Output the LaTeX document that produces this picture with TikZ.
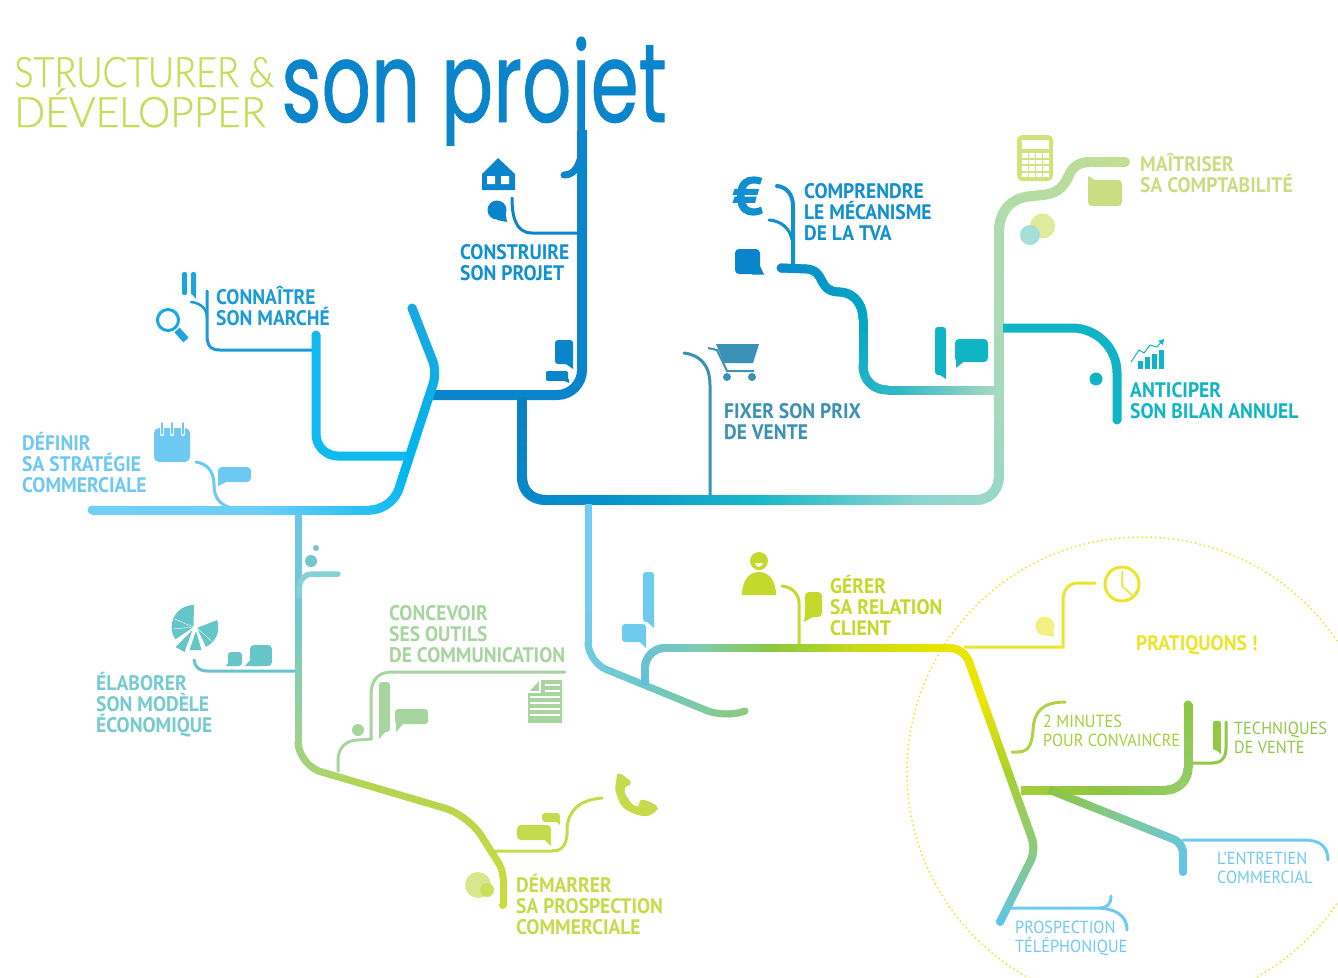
\documentclass[tikz,border=0pt]{standalone}
\usepackage{fontspec}
\usetikzlibrary{decorations.markings}
\setmainfont{PT Sans}
\newfontfamily\labfam[FakeStretch=.93]{PT Sans}
\newfontfamily\eurofam[FakeBold=2.5]{PT Sans}
\newfontfamily\thinfam[FakeStretch=.86,FakeBold=1]{Lato Light}
\newfontfamily\thinfamb[FakeStretch=.97,FakeBold=1]{Lato Light}
\newfontfamily\bigfam[FakeStretch=.69,FakeBold=.6]{Poppins}
\newcommand\labf{\labfam\bfseries\fontsize{21}{21.4}\selectfont}
\newcommand\labs{\labfam\fontsize{17.5}{19}\selectfont}
\newcommand\ml[1]{\vtop{\lineskiplimit=-100pt\let\\\cr\halign{##\hfil\cr #1\crcr}}}
% colours
\definecolor{cmain}{HTML}{0A85CC}
\definecolor{cblue}{HTML}{1090D0}
\definecolor{csky}{HTML}{1BA5DF}
\definecolor{cconn}{HTML}{1A9AD6}
\definecolor{cdef}{HTML}{6DC9F2}
\definecolor{ceco}{HTML}{66C5C9}
\definecolor{ccom}{HTML}{A7D49F}
\definecolor{cpros}{HTML}{C6DB4B}
\definecolor{cfix}{HTML}{3A90B5}
\definecolor{cteal}{HTML}{10B4C4}
\definecolor{ccpt}{HTML}{CBDD83}
\definecolor{cger}{HTML}{C5D92D}
\definecolor{cyel}{HTML}{EAE62E}
\definecolor{cgrn}{HTML}{93C748}
\definecolor{clite}{HTML}{6FCBEE}
\definecolor{ctitle}{HTML}{C8DC5A}
\definecolor{a0}{HTML}{0A7FC4}\definecolor{a1}{HTML}{0590CC}\definecolor{a2}{HTML}{1AB8C8}
\definecolor{a3}{HTML}{90D6D0}\definecolor{a4}{HTML}{A8D9BE}\definecolor{a5}{HTML}{AEDAB0}\definecolor{a6}{HTML}{C2DE90}
\definecolor{b0}{HTML}{1AA7E0}\definecolor{b1}{HTML}{00B6F0}\definecolor{b2}{HTML}{6CCFF8}\definecolor{b3}{HTML}{72CFF8}
\definecolor{d0}{HTML}{6CC6EA}\definecolor{d1}{HTML}{72C8CE}\definecolor{d2}{HTML}{98D09A}\definecolor{d3}{HTML}{B4D552}\definecolor{d4}{HTML}{BBD648}\definecolor{d5}{HTML}{CADD3C}
\definecolor{e0}{HTML}{60BFDC}\definecolor{e1}{HTML}{7CCAB5}\definecolor{e2}{HTML}{90C83C}\definecolor{e3}{HTML}{C6DA1E}\definecolor{e4}{HTML}{E8E400}\definecolor{e5}{HTML}{EDE600}\definecolor{e6}{HTML}{A8D030}\definecolor{e7}{HTML}{8CCA80}\definecolor{e8}{HTML}{5FC5E8}
\definecolor{f0}{HTML}{70CCF5}\definecolor{f1}{HTML}{70CCF0}\definecolor{f2}{HTML}{6EC8C8}\definecolor{f3}{HTML}{8CCB80}
\definecolor{h0}{HTML}{0B8BCC}\definecolor{h1}{HTML}{00A5C4}\definecolor{h2}{HTML}{30B8C8}\definecolor{h3}{HTML}{A8D8C0}
\definecolor{k0}{HTML}{A5CF3A}\definecolor{k1}{HTML}{8DC63F}\definecolor{k2}{HTML}{95CC6A}\definecolor{k3}{HTML}{8DC63F}
\definecolor{m0}{HTML}{8CC63F}\definecolor{m1}{HTML}{80C9A0}\definecolor{m2}{HTML}{60C5EE}
% gradient stroke along a path: full width, number of segments, quoted colour list, path
\newcommand\gmark{%
  \pgfmathsetmacro\gt{\pgfkeysvalueof{/pgf/decoration/mark info/distance from start}/\pgfdecoratedpathlength*\gn}%
  \pgfmathtruncatemacro\gi{min(int(\gt),\gn-1)}%
  \pgfmathtruncatemacro\gj{\gi+1}%
  \pgfmathtruncatemacro\gp{100*(\gt-\gi)}%
  \pgfmathsetmacro\ga{{\gs}[\gi]}%
  \pgfmathsetmacro\gb{{\gs}[\gj]}%
  \draw[\gb!\gp!\ga,line width=\gw pt,line cap=butt] (-1.1pt,0pt) -- (1.1pt,0pt);%
}
\newcommand\gline[4]{%
  \def\gw{#1}\def\gn{#2}\def\gs{#3}%
  \path[decorate,decoration={markings,mark=between positions 0 and 1 step 1.5pt with {\gmark}}] #4;%
}
\tikzset{
  lbl/.style={anchor=base west,inner sep=0pt,font=\labf},
  lbs/.style={anchor=base west,inner sep=0pt,font=\labs},
  thin line/.style={line width=3pt,line cap=round},
  thick line/.style={line width=9pt,line cap=round},
}
\begin{document}
\begin{tikzpicture}[x=1pt,y=-1pt]
\path[use as bounding box,clip] (0,0) rectangle (1338,977);
\fill[white] (0,0) rectangle (1338,977);
% named junctions
\coordinate (jtop) at (582,130);
\coordinate (jv) at (430,395);
\coordinate (t2) at (522,398);
\coordinate (vtop) at (412,308);
\coordinate (vend) at (92,510);
\coordinate (d0) at (298,510);
\coordinate (d1) at (503,905);
\coordinate (f0) at (588,505);
\coordinate (f1) at (745,711);
\coordinate (g0) at (645,684);
\coordinate (g1) at (1000,922);
\coordinate (tvaS) at (781,268);
\coordinate (bilanS) at (1003,328);
\coordinate (bilanE) at (1117,420);
\coordinate (cptE) at (1125,162);
\coordinate (techE) at (1188,705);
\coordinate (entE) at (1183,872);
\coordinate (connS) at (316,335);
\coordinate (clock) at (1122,584);
% dotted circle
\draw[cyel,line width=1.5pt,dash pattern=on 1.5pt off 3pt] (1142,772) circle (235);
% title
\node[anchor=base west,inner sep=0pt,text=ctitle,font=\thinfam\fontsize{42}{42}\selectfont] (t1) at (14,87) {STRUCTURER \&};
\node[anchor=base west,inner sep=0pt,text=ctitle,font=\thinfamb\fontsize{42}{42}\selectfont] (t2n) at (14,127) {DÉVELOPPER};
\node[anchor=base west,inner sep=0pt,text=cmain,font=\bigfam\fontsize{112}{112}\selectfont] (t3) at (281,122) {son projet};
\fill[white] (440,146) rectangle (474,156) (545,127) rectangle (577,160);
% --- thin connectors
\draw[thin line,cmain] (580,233) -- (532,233) .. controls (515,233) and (512,215) .. (512,198);
\draw[thin line,cconn] (316,350) -- (220,350) .. controls (210,350) and (207,345) .. (207,335) -- (207,291);
\draw[thin line,cconn,line width=2.5pt] (207,318) .. controls (207,308) and (200,303) .. (191,302);
\draw[thin line,cdef] (232,508) .. controls (218,505) and (214,495) .. (214,485) .. controls (214,472) and (208,464) .. (196,462);
\draw[thin line,ceco] (297,671) -- (207,671) .. controls (199,671) and (195,667) .. (194,660);
\draw[thin line,ccom] (338,771) -- (338,760) .. controls (338,748) and (346,740) .. (358,740) -- (371,739) -- (371,695) .. controls (371,680) and (378,672) .. (392,672) -- (565,672);
\draw[thin line,cpros] (495,851) -- (552,851) .. controls (562,851) and (566,845) .. (567,835) -- (567,828) .. controls (568,812) and (578,800) .. (602,798);
\draw[thin line,cger] (799,648) -- (799,603) .. controls (799,594) and (792,587) .. (782,586);
\draw[thin line,cyel] (965,647) -- (1063,647) -- (1063,600) .. controls (1063,590) and (1069,583) .. (1078,583) -- (1095,583);
\draw[thin line,k0!70!ctitle] (1012,752) -- (1018,752) .. controls (1030,752) and (1032,742) .. (1033,730) .. controls (1034,712) and (1042,702) .. (1065,702);
\draw[thin line,cgrn] (1190,763) -- (1212,763) .. controls (1222,763) and (1226,757) .. (1226,748) -- (1226,722);
\draw[thin line,clite] (1183,840) -- (1305,840) .. controls (1320,840) and (1328,847) .. (1328,860);
\draw[thin line,clite] (1010,908) -- (1095,908) .. controls (1115,908) and (1127,915) .. (1127,930);
\draw[thin line,clite] (1100,908) .. controls (1107,908) and (1111,904) .. (1111,896);
\draw[thin line,cfix] (710,497) -- (710,385) .. controls (710,365) and (700,355) .. (684,353);
\draw[line width=4pt,line cap=round,cblue] (793,268) -- (793,206) .. controls (793,195) and (787,187) .. (777,186);
\draw[line width=3pt,line cap=round,cblue] (792,240) .. controls (790,229) and (782,221) .. (769,220);
% --- trunks
\draw[line width=10pt,cmain,rounded corners=25pt] (jtop) -- (582,395) -- (jv);
\draw[line width=7pt,cmain,line cap=round] (564,175) .. controls (575,175) and (580,165) .. (582,150);
\gline{10}{6}{"a0","a1","a2","a3","a4","a5","a6"}{(t2) -- (522,477) .. controls (522,491) and (532,500) .. (546,500) -- (975,500) .. controls (990,500) and (999,490) .. (999,475) -- (999,232) .. controls (999,210) and (1012,197) .. (1033,196) -- (1042,195) .. controls (1058,194) and (1065,185) .. (1069,175) .. controls (1073,166) and (1080,162) .. (1090,162) -- (cptE)}
\fill[a6] (cptE) circle (5);
\gline{9}{3}{"h0","h1","h2","h3"}{(tvaS) -- (807,269) .. controls (818,270) and (820,278) .. (823,283) .. controls (827,290) and (832,292) .. (840,292) .. controls (855,293) and (863,305) .. (863,320) -- (863,365) .. controls (863,380) and (873,390) .. (888,390) -- (997,390)}
\fill[h0] (tvaS) circle (4.5);
\draw[thick line,cteal,rounded corners=45pt,line cap=butt] (bilanS) -- (1117,328) -- (bilanE);
\fill[cteal] (bilanE) circle (4.5);
\gline{7}{3}{"f0","f1","f2","f3"}{[rounded corners=20pt] (f0) -- (588,662) -- (725,718) -- (f1)}
\fill[f3] (f1) circle (3.5);
\gline{8}{8}{"e0","e1","e2","e3","e4","e5","e6","e7","e8"}{[rounded corners=20pt] (g0) -- (645,648) [rounded corners=14pt] -- (964,648) [rounded corners=12pt] -- (1036,850) -- (g1)}
\fill[e8] (g1) circle (4);
\gline{7}{5}{"d0","d1","d2","d3","d4","d5"}{[rounded corners=24pt] (d0) -- (298,765) -- (468,815) [rounded corners=8pt] -- (503,870) -- (d1)}
\fill[d5] (d1) circle (4);
\draw[line width=5.5pt,line cap=round,d1!85!white,rounded corners=12pt] (338,574) -- (300,574) -- (299,596);
\gline{9}{3}{"b0","b1","b2","b3"}{[rounded corners=12pt] (vtop) -- (437,372) [rounded corners=22pt] -- (392,510) -- (vend)}
\fill[b0] (vtop) circle (4.5);
\fill[b3] (vend) circle (4.5);
\draw[thick line,line cap=butt,b1!85!b2,rounded corners=22pt] (connS) -- (316,456) -- (407,456);
\fill[b1!85!b2] (connS) circle (4.5);
\gline{9}{3}{"k0","k1","k2","k3"}{[rounded corners=22pt] (1022,790) -- (1188,790) -- (techE)}
\fill[k3] (techE) circle (4.5);
\gline{8}{2}{"m0","m1","m2"}{[rounded corners=10pt] (1050,790) -- (1183,843) -- (entE)}
\fill[m2] (entE) circle (4);
% --- labels
\node[lbl,text=cblue] (construire) at (460,259) {\ml{CONSTRUIRE\\SON PROJET}};
\node[lbl,text=cconn] (connaitre) at (216,304) {\ml{CONNAÎTRE\\SON MARCHÉ}};
\node[lbl,text=cdef] (definir) at (22,450) {\ml{DÉFINIR\\SA STRATÉGIE\\COMMERCIALE}};
\node[lbl,text=ceco!90!white] (elaborer) at (96,690) {\ml{ÉLABORER\\SON MODÈLE\\ÉCONOMIQUE}};
\node[lbl,text=ccom] (concevoir) at (389,620) {\ml{CONCEVOIR\\SES OUTILS\\DE COMMUNICATION}};
\node[lbl,text=cpros] (demarrer) at (516,892) {\ml{DÉMARRER\\SA PROSPECTION\\COMMERCIALE}};
\node[lbl,text=cfix] (fixer) at (724,418) {\ml{FIXER SON PRIX\\DE VENTE}};
\node[lbl,text=cblue] (comprendre) at (804,198) {\ml{COMPRENDRE\\LE MÉCANISME\\DE LA TVA}};
\node[lbl,text=cteal] (anticiper) at (1130,397) {\ml{ANTICIPER\\SON BILAN ANNUEL}};
\node[lbl,text=ccpt] (maitriser) at (1140,171) {\ml{MAÎTRISER\\SA COMPTABILITÉ}};
\node[lbl,text=cger] (gerer) at (830,593) {\ml{GÉRER\\SA RELATION\\CLIENT}};
\node[lbl,text=cyel] (pratiquons) at (1136,650) {PRATIQUONS !};
\node[lbs,text=k0] (minutes) at (1043,727) {\ml{2 MINUTES\\POUR CONVAINCRE}};
\node[lbs,text=cgrn] (techniques) at (1234,734) {\ml{TECHNIQUES\\DE VENTE}};
\node[lbs,text=clite] (entretien) at (1217,864) {\ml{L’ENTRETIEN\\COMMERCIAL}};
\node[lbs,text=clite] (prospection) at (1015,933) {\ml{PROSPECTION\\TÉLÉPHONIQUE}};
\node[anchor=center,inner sep=0pt,text=cblue,font=\eurofam\bfseries\fontsize{52}{52}\selectfont] (euro) at (748,196) {€};
% --- icons: house
\fill[cmain] (498,158) -- (515,174) -- (515,190) -- (482,190) -- (482,174) -- cycle;
\fill[white] (487,176) rectangle (495,184) (501,176) rectangle (509,184);
\fill[cmain] (497,210) circle (9.5);
\fill[cmain] (497,220) -- (507,222) -- (504,203) -- cycle;
% bubbles near corner
\fill[cmain,rounded corners=3pt] (555,340) rectangle (573,364);
\fill[cmain] (563,362) -- (573,362) -- (573,369) -- cycle;
\fill[cmain,rounded corners=2pt] (546,371) rectangle (568,381);
\fill[cmain] (560,379) -- (569,379) -- (569,383) -- cycle;
% magnifier and bars
\draw[csky,line width=3pt] (168,320) circle (10.5);
\draw[csky,line width=7pt] (177,330) -- (186,340);
\fill[csky,rounded corners=2pt] (182,272) rectangle (187,295);
\fill[csky,rounded corners=2pt] (191,272) rectangle (196,295);
\fill[csky] (191,293) -- (196,293) -- (196,299) -- cycle;
% calendar and bubble
\fill[cdef,rounded corners=5pt] (154,428) rectangle (190,462);
\foreach \q in {162,172,183}{\draw[white,line width=4.5pt,line cap=round] (\q,429) -- (\q,434);\draw[cdef,line width=1.8pt,line cap=round] (\q,423) -- (\q,434);}
\fill[cdef,rounded corners=4pt] (218,467) rectangle (251,482);
\fill[cdef] (218,478) -- (226,482) -- (218,486) -- cycle;
% dots and pie
\fill[d1] (311,561) circle (6);
\fill[d1] (316,548) circle (3);
\begin{scope}[shift={(193.5,627)},yscale=-1]
\fill[ceco] (0,0) -- (0.5,22) arc (89:214:22) -- cycle;
\fill[ceco] (3.5,-1) -- (23.5,7) arc (20:-65:21.5) -- cycle;
\fill[ceco] (-1,-3) -- (-18,-20) -- (-9,-25) -- cycle;
\fill[ceco] (2.5,-4) -- (-4,-23) -- (8,-23) -- cycle;
\draw[white,line width=.7pt,dash pattern=on 2pt off 1pt] (0,0) -- (-19,8);
\draw[white,line width=.4pt] (0,0) -- (-20,-2);
\draw[white,line width=.4pt] (3.5,-1) -- (18,-14);
\end{scope}
\fill[ceco,rounded corners=3pt] (228,652) rectangle (242,666);
\fill[ceco] (230,660) -- (226,666) -- (236,666) -- cycle;
\fill[ceco,rounded corners=4pt] (250,645) rectangle (272,666);
\fill[ceco] (252,658) -- (245,666) -- (258,666) -- cycle;
% concevoir bubbles, dot, document
\fill[ccom,rounded corners=3pt] (379,682) rectangle (390,732);
\fill[ccom] (379,728) -- (389,728) -- (379,739) -- cycle;
\fill[ccom,rounded corners=3pt] (395,709) rectangle (428,724);
\fill[ccom] (396,722) -- (405,722) -- (396,732) -- cycle;
\fill[ccom] (358,730) circle (6);
\fill[ccom] (540,680) -- (562,680) -- (562,723) -- (528,723) -- (528,693) -- cycle;
\foreach \q in {697,703,709,715}{\draw[white,line width=1.2pt] (530,\q) -- (560,\q);}
\draw[white,line width=1.2pt] (545,685) -- (560,685) (545,691) -- (560,691) (540,680) -- (540,692) -- (528,692);
% demarrer
\fill[ctitle!70!white] (478,885) circle (13);
\fill[cpros!90!white] (487,890) circle (7);
\fill[cpros,rounded corners=4pt] (517,825) rectangle (551,840);
\fill[cpros] (543,838) -- (551,838) -- (551,846) -- cycle;
\fill[cpros,rounded corners=3pt] (542,813) rectangle (560,822);
\fill[cpros] (554,820) -- (560,820) -- (560,825) -- cycle;
\fill[cpros,rounded corners=2pt] plot[smooth cycle,tension=.55] coordinates {(619,774) (630,782) (625,789) (627,797) (636,806) (643,800) (657,807) (650,815) (638,815) (623,807) (616,792) (616,782)};
% gerer
\fill[cger] (759,561) circle (9);
\fill[white] (755,563) .. controls (756,568) and (762,568) .. (763,563) -- cycle;
\fill[cger] (742,595) .. controls (742,582) and (748,572) .. (759,572) .. controls (770,572) and (776,582) .. (776,595) -- cycle;
\fill[cger,rounded corners=4pt] (805,592) rectangle (822,617);
\fill[cger] (805,612) -- (813,617) -- (804,622) -- cycle;
\fill[clite,rounded corners=3pt] (643,572) rectangle (654,622);
\fill[clite] (645,620) -- (654,620) -- (654,628) -- cycle;
\fill[clite,rounded corners=3pt] (622,624) rectangle (646,642);
\fill[clite] (638,640) -- (646,640) -- (646,648) -- cycle;
% clock and yellow bubble
\draw[cyel,line width=3pt] (clock) circle (17);
\draw[cyel,line width=1.5pt] (1122,571) -- (1122,586) -- (1133,596);
\fill[cyel!60!white] (1045,626) circle (9.5);
\fill[cyel!60!white] (1044,635) -- (1054,637) -- (1053,626) -- cycle;
% techniques
\fill[cgrn,rounded corners=2pt] (1213,721) rectangle (1221,750);
\fill[cgrn] (1213,748) -- (1221,748) -- (1221,754) -- cycle;
% cart
\fill[cfix] (716,344) -- (759,344) -- (753,363) -- (724,363) -- cycle;
\draw[cfix,line width=2pt] (708,348) -- (717,350) -- (727,371) -- (754,371);
\fill[cfix] (727,377) circle (4) (752,377) circle (4);
% tva
\fill[cmain,rounded corners=4pt] (735,249) rectangle (760,274);
\fill[cmain] (752,266) -- (760,266) -- (764,274.5) -- (752,274.5) -- cycle;
\fill[cteal,rounded corners=3pt] (935,327) rectangle (946,375);
\fill[cteal] (937,373) -- (946,373) -- (946,379) -- cycle;
\fill[cteal,rounded corners=4pt] (955,339) rectangle (988,362);
\fill[cteal] (956,360) -- (966,360) -- (956,368) -- cycle;
% bilan
\fill[cteal] (1096,379) circle (6.5);
\foreach \q/\r in {1138/361,1145/357,1152/354,1159/350}{\fill[cteal] (\q,\r) rectangle ++(5,369-\r);}
\draw[cteal,line width=1pt] (1131,362) -- (1139,350) -- (1144,353) -- (1150,345) -- (1157,347) -- (1163,340);
\fill[cteal] (1164,339) -- (1158,341) -- (1163,345) -- cycle;
% compta
\fill[ctitle!80!white,rounded corners=5pt] (1017,135) rectangle (1053,181);
\fill[white] (1022,140) rectangle (1049,149);
\foreach \q in {1022,1029,1036,1043}{\foreach \r in {153,159.5,166,172.5}{\fill[white] (\q,\r) rectangle ++(5.5,4.8);}}
\fill[ccpt,rounded corners=4pt] (1088,180) rectangle (1122,206);
\fill[ccpt] (1088,176) -- (1097,181) -- (1088,186) -- cycle;
\fill[ctitle!60!white] (1042.5,226) circle (12.5);
\fill[a4!60!cteal!60!white] (1030,235) circle (10);
\end{tikzpicture}
\end{document}
